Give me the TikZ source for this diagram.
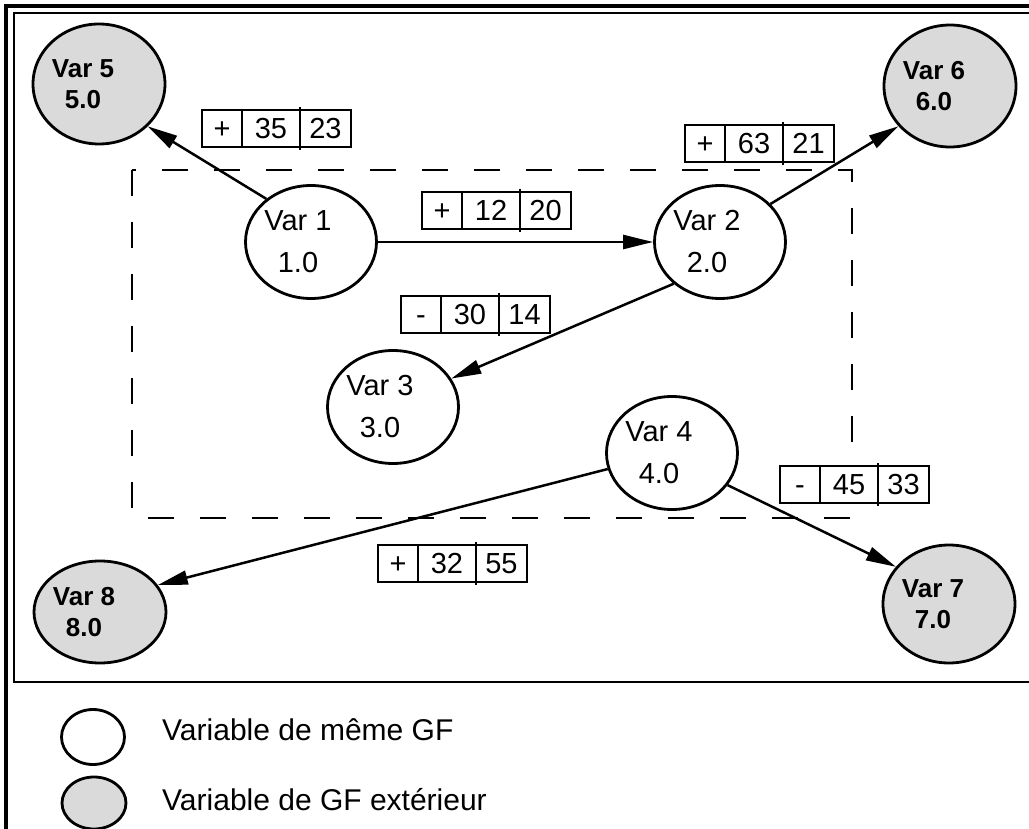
\documentclass[tikz,border=0pt]{standalone}
\usepackage{fontspec}
\setmainfont{Liberation Sans}
\usetikzlibrary{arrows.meta,positioning,shapes.geometric}
\definecolor{extgray}{RGB}{218,218,218}

% three-cell label: name, x, y, sign, first value, second value
\newcommand\cellrow[6]{%
  \node[cell,minimum width=40pt,anchor=north west] (#1s) at (#2,#3) {#4};
  \node[cell,minimum width=58pt,right=0pt of #1s] (#1a) {#5};
  \node[cell,minimum width=51pt,right=0pt of #1a] (#1b) {#6};
  \draw[line width=2.2pt] ([yshift=3pt]#1a.north east) -- ([yshift=-3pt]#1a.south east);}

\begin{document}
\begin{tikzpicture}[x=1pt,y=-1pt,
  locvar/.style={ellipse,draw,line width=2.8pt,fill=white,minimum width=131pt,minimum height=113pt,inner sep=0pt},
  extvar/.style={ellipse,draw,line width=2.8pt,fill=extgray,minimum width=132pt,minimum height=118pt,inner sep=0pt},
  loctxt/.style={align=center,font=\fontsize{29pt}{42pt}\selectfont},
  exttxt/.style={align=center,font=\fontsize{26pt}{31pt}\selectfont\bfseries},
  cell/.style={draw,line width=2pt,fill=white,minimum height=37pt,inner sep=0pt,outer sep=0pt,
    text height=20pt,text depth=0pt,font=\fontsize{29pt}{34pt}\selectfont},
  conn/.style={-{Triangle[length=30pt,width=14pt]},line width=2.5pt}]
  \useasboundingbox (0,0) rectangle (1029,829);
  % frames
  \draw[line width=3.5pt] (6,829) -- (6,6) -- (1029,6);
  \draw[line width=2.5pt] (1029,13) -- (14,13) -- (14,682) -- (1029,682);
  \draw[line width=2.5pt,dash pattern=on 26pt off 26pt] (132,170) rectangle (852,518);
  % variables
  \foreach \n/\x/\y in {1/311/242,2/720/242,3/393/407,4/672/453} {
    \node[locvar] (v\n) at (\x,\y) {};
    \node[loctxt] at ([xshift=-13pt]v\n) {Var \n\\\n.0};}
  \foreach \n/\x/\y/\h in {5/99/84/120,6/950/86/122,7/949/604/118,8/100/612/102} {
    \node[extvar,minimum height=\h pt] (v\n) at (\x,\y) {};
    \node[exttxt] at ([xshift=-16pt]v\n) {Var \n\\\n.0};}
  % links
  \draw[conn] (v1.136) -- (v5.-41);
  \draw[conn] (v1) -- (v2);
  \draw[conn] (v2.37) -- (v6.218);
  \draw[conn] (v2.222) -- (v3.26);
  \draw[conn] (v4.194) -- (v8.25);
  \draw[conn] (v4.-30) -- (v7.145);
  % labels
  \cellrow{b35}{202}{110}{+}{35}{23}
  \cellrow{b63}{685}{125}{+}{63}{21}
  \cellrow{b12}{422}{192}{+}{12}{20}
  \cellrow{b30}{401}{296}{-}{30}{14}
  \cellrow{b45}{780}{466}{-}{45}{33}
  \cellrow{b32}{378}{545}{+}{32}{55}
  % legend
  \node[locvar,minimum width=63pt,minimum height=55pt] (lg1) at (93,737) {};
  \node[extvar,minimum width=64pt,minimum height=52pt] (lg2) at (94,803) {};
  \node[font=\fontsize{30pt}{36pt}\selectfont,anchor=base west,inner sep=0pt] (lt1) at (162,740) {Variable de même GF};
  \node[font=\fontsize{30pt}{36pt}\selectfont,anchor=base west,inner sep=0pt] (lt2) at (162,810) {Variable de GF extérieur};
\end{tikzpicture}
\end{document}
